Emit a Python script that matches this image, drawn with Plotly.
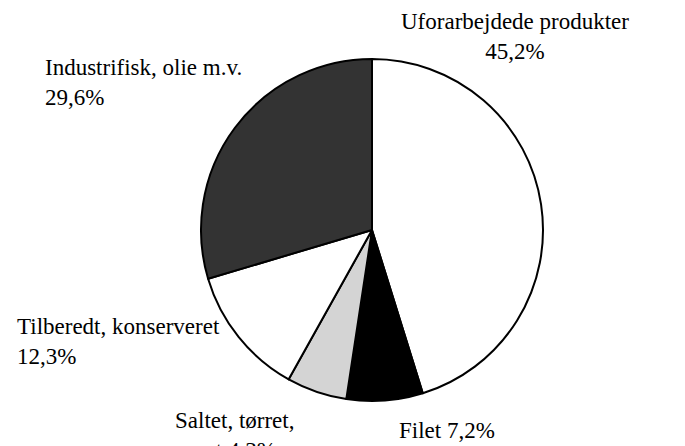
import plotly.graph_objects as go

W, H = 685, 446
OFF = 8  # browser default body margin shifts the figure by 8px

categories = ["Uforarbejdede produkter", "Filet", "Saltet, tørret, røget",
              "Tilberedt, konserveret", "Industrifisk, olie m.v."]
# slice sizes as drawn (the Saltet slice is drawn larger than its 4,3% label)
slice_values = [45.2, 7.2, 5.7, 12.3, 29.6]
label_texts = ["Uforarbejdede produkter<br>45,2%", "Filet 7,2%",
               "Saltet, tørret,<br>røget 4,3%", "Tilberedt, konserveret<br>12,3%",
               "Industrifisk, olie m.v.<br>29,6%"]
colors = ["#ffffff", "#000000", "#d4d4d4", "#ffffff", "#333333"]

cx, cy, r = 372 - OFF, 230 - OFF, 171

fig = go.Figure(go.Pie(
    labels=categories,
    values=slice_values,
    sort=False,
    direction="clockwise",
    rotation=0,
    marker=dict(colors=colors, line=dict(color="#000000", width=2)),
    textinfo="none",
    hoverinfo="label+value",
    showlegend=False,
    domain=dict(x=[(cx - r) / W, (cx + r) / W],
                y=[(H - cy - r) / H, (H - cy + r) / H]),
))

font = dict(family="Liberation Serif, Tinos, Times New Roman, serif", size=23, color="black")

# (x px, y-center px, xanchor, align) in window pixels
label_pos = [
    (515, 37, "center", "center"),
    (397, 430, "left", "left"),
    (173, 435, "left", "left"),
    (15, 341, "left", "left"),
    (43, 82, "left", "left"),
]
for txt, (x, y, xa, al) in zip(label_texts, label_pos):
    fig.add_annotation(text=txt, x=(x - OFF) / W, y=(H - (y - OFF)) / H,
                       xref="paper", yref="paper",
                       xanchor=xa, yanchor="middle", align=al, showarrow=False,
                       font=font)

fig.update_layout(width=W, height=H, margin=dict(l=0, r=0, t=0, b=0),
                  font=dict(family="Liberation Serif, serif"),
                  paper_bgcolor="#ffffff", plot_bgcolor="#ffffff")

fig.write_html("out.html")
